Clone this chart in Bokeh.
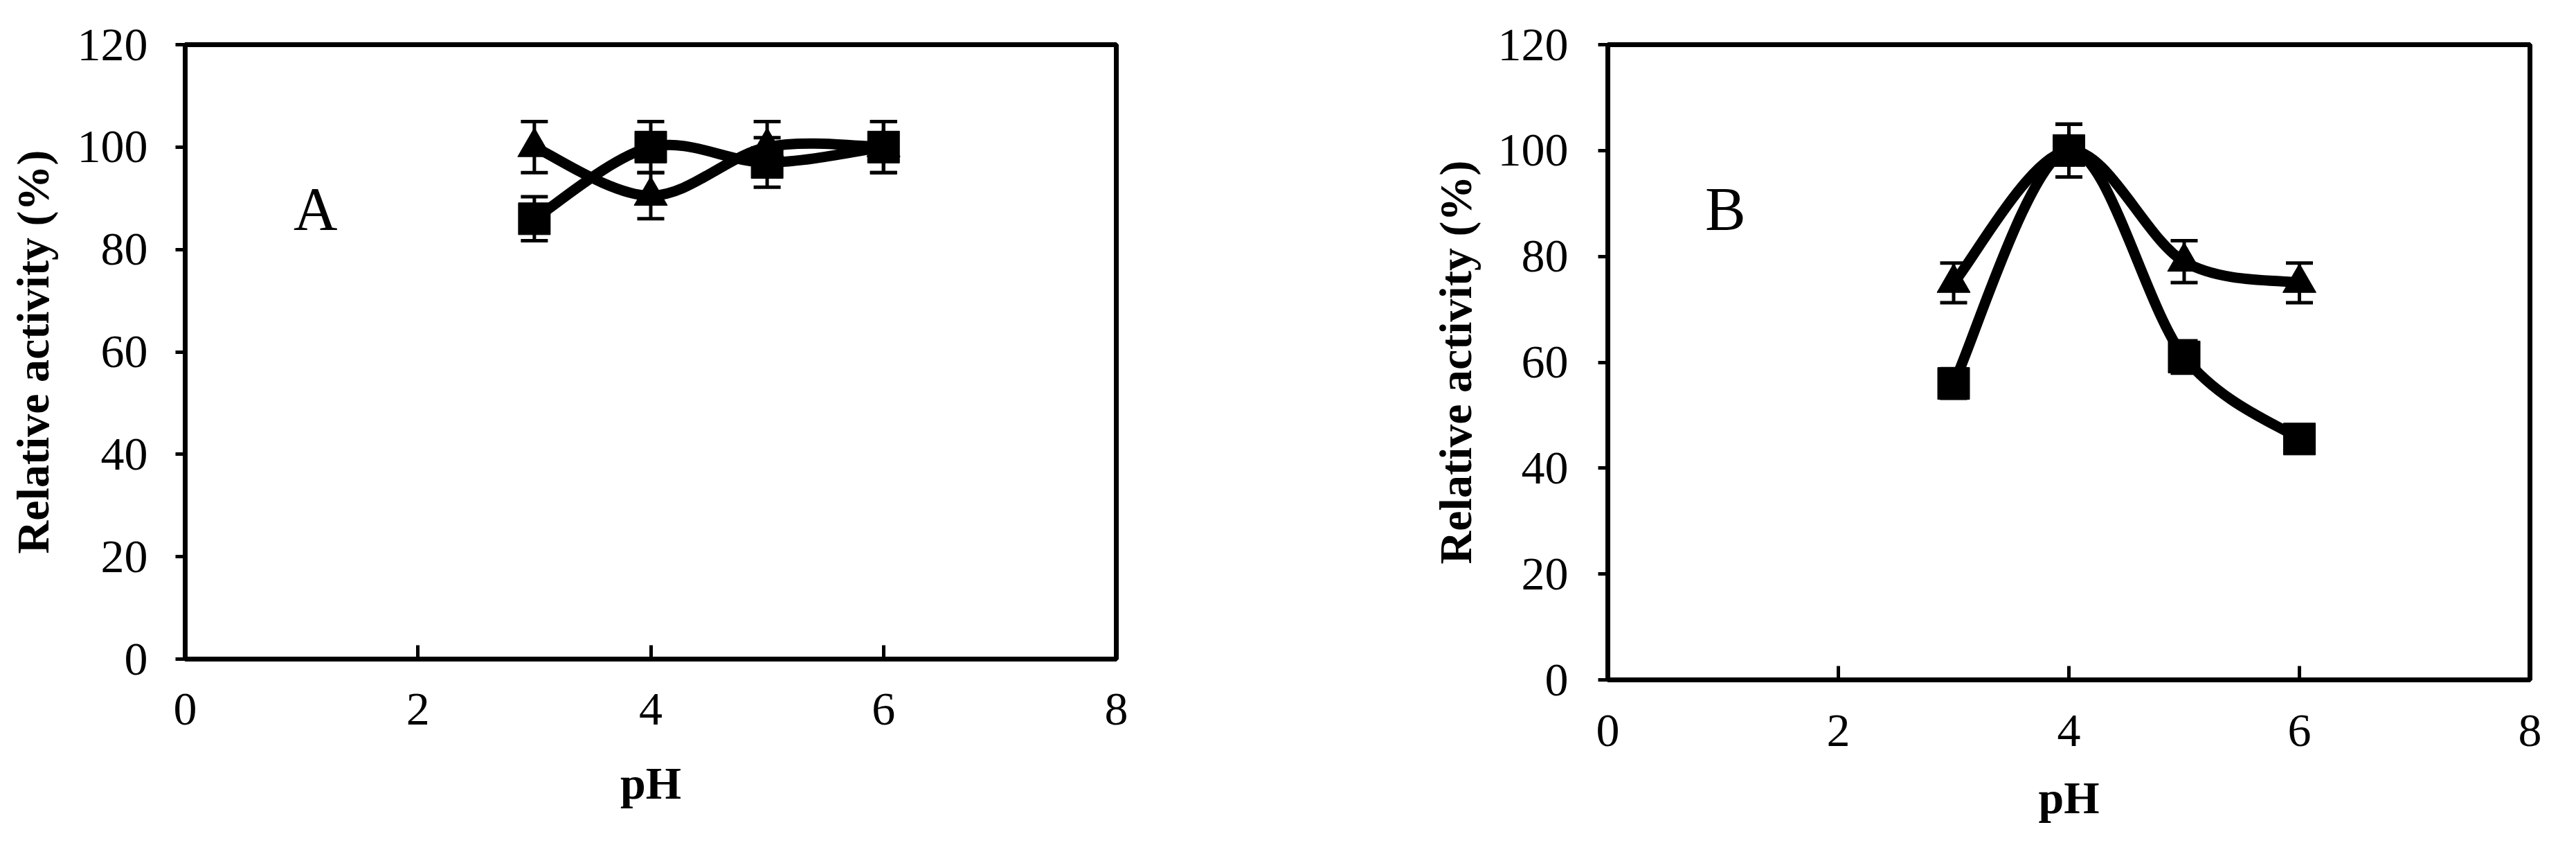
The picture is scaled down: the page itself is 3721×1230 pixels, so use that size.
from bokeh.plotting import figure
from bokeh.models import Range1d, FixedTicker, ColumnDataSource, Whisker, TeeHead, Label
from bokeh.layouts import row
from bokeh.embed import file_html
from bokeh.resources import INLINE

# ---- data ----
ph = [3, 4, 5, 6]
a_tri = [100, 90.5, 100, 100]
a_tri_err = [5, 4.5, 5, 5]
a_sq = [86, 100, 97, 100]
a_sq_err = [4.3, 5, 4.85, 5]
b_tri = [75, 100, 79, 75]
b_tri_err = [3.75, 5, 3.95, 3.75]
b_sq = [56, 100, 61, 45.5]
b_sq_err = [2.8, 5, 3.05, 2.3]
x_ticks = [0, 2, 4, 6, 8]
y_ticks = [0, 20, 40, 60, 80, 100, 120]

FONT = "Liberation Serif"


def smooth_source(xs, ys):
    """Bezier control points for a smoothed line through the data points."""
    n = len(xs)
    P = list(zip(xs, ys))
    d = dict(x0=[], y0=[], x1=[], y1=[], cx0=[], cy0=[], cx1=[], cy1=[])
    for i in range(n - 1):
        p0 = P[max(i - 1, 0)]
        p1 = P[i]
        p2 = P[i + 1]
        p3 = P[min(i + 2, n - 1)]
        d["x0"].append(p1[0]); d["y0"].append(p1[1])
        d["x1"].append(p2[0]); d["y1"].append(p2[1])
        d["cx0"].append(p1[0] + (p2[0] - p0[0]) / 6)
        d["cy0"].append(p1[1] + (p2[1] - p0[1]) / 6)
        d["cx1"].append(p2[0] - (p3[0] - p1[0]) / 6)
        d["cy1"].append(p2[1] - (p3[1] - p1[1]) / 6)
    return ColumnDataSource(d)


def add_series(p, ys, errs, marker, size):
    src = ColumnDataSource(dict(x=ph, y=ys,
                                upper=[v + e for v, e in zip(ys, errs)],
                                lower=[v - e for v, e in zip(ys, errs)]))
    w = Whisker(source=src, base="x", upper="upper", lower="lower",
                dimension="height", line_width=5, line_color="black",
                upper_head=TeeHead(size=39, line_width=5, line_color="black"),
                lower_head=TeeHead(size=39, line_width=5, line_color="black"))
    p.add_layout(w)
    p.bezier(x0="x0", y0="y0", x1="x1", y1="y1", cx0="cx0", cy0="cy0",
             cx1="cx1", cy1="cy1", source=smooth_source(ph, ys),
             line_color="black", line_width=15, line_cap="round")
    p.scatter("x", "y", source=src, marker=marker, size=size,
              fill_color="black", line_color="black")


def make_fig(fw, fh, bl, bt, br, bb, ylab_so, ytitle_so, xlab_so, xtitle_so):
    p = figure(frame_width=fw, frame_height=fh,
               x_range=Range1d(0, 8), y_range=Range1d(0, 120),
               min_border_left=bl, min_border_top=bt,
               min_border_right=br, min_border_bottom=bb,
               output_backend="svg", toolbar_location=None)
    p.grid.visible = False
    p.outline_line_color = "black"
    p.outline_line_width = 7
    p.outline_line_alpha = 1.0
    p.background_fill_color = "white"
    p.border_fill_color = "white"

    p.xaxis.ticker = FixedTicker(ticks=x_ticks)
    p.yaxis.ticker = FixedTicker(ticks=y_ticks)
    for ax in (p.xaxis[0], p.yaxis[0]):
        ax.axis_line_color = None
        ax.minor_tick_line_color = None
        ax.major_tick_line_color = "black"
        ax.major_tick_line_width = 5
        ax.major_label_text_font = FONT
        ax.major_label_text_font_size = "68px"
        ax.major_label_text_color = "black"
        ax.axis_label_text_font = FONT
        ax.axis_label_text_font_size = "66px"
        ax.axis_label_text_font_style = "bold"
        ax.axis_label_text_color = "black"
    p.xaxis.major_tick_in = 20
    p.xaxis.major_tick_out = 0
    p.yaxis.major_tick_in = 0
    p.yaxis.major_tick_out = 14
    p.xaxis.axis_label = "pH"
    p.yaxis.axis_label = "Relative activity (%)"
    p.yaxis.major_label_standoff = ylab_so
    p.yaxis.axis_label_standoff = ytitle_so
    p.xaxis.major_label_standoff = xlab_so
    p.xaxis.axis_label_standoff = xtitle_so
    return p


pA = make_fig(1345, 887, 267, 58, 300, 240, 40, 25, 50, 45)
add_series(pA, a_tri, a_tri_err, "triangle", 48)
add_series(pA, a_sq, a_sq_err, "square", 46)
pA.add_layout(Label(x=1.12, y=88, text="A", text_font=FONT, text_font_size="88px",
                    text_color="black", text_align="center", text_baseline="middle"))

pB = make_fig(1332, 917, 410, 64, 30, 225, 43, 22, 51, 35)
add_series(pB, b_tri, b_tri_err, "triangle", 48)
add_series(pB, b_sq, b_sq_err, "square", 46)
pB.add_layout(Label(x=1.02, y=89, text="B", text_font=FONT, text_font_size="88px",
                    text_color="black", text_align="center", text_baseline="middle"))

layout = row(pA, pB)
open("out.html", "w").write(file_html(layout, INLINE))
